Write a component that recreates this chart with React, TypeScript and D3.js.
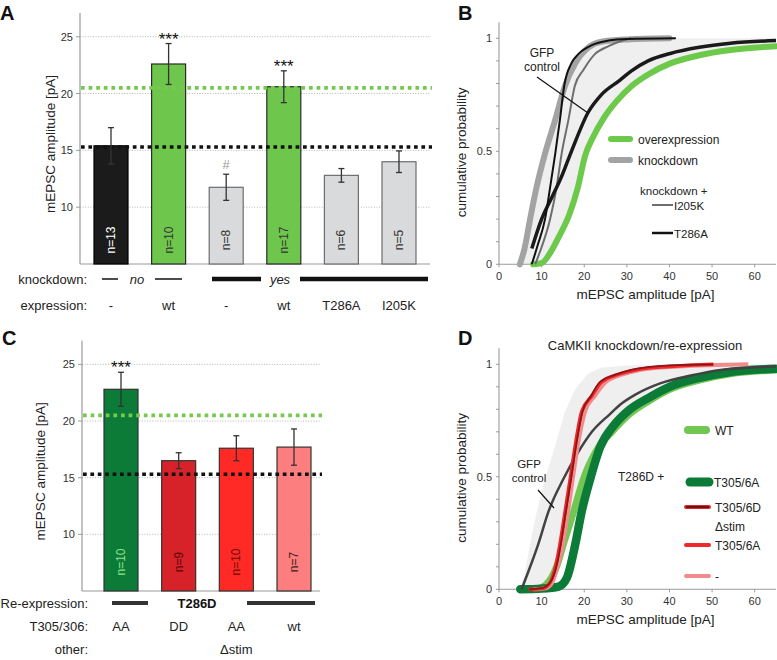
import React from "react";
import * as d3 from "d3";

const FONT = '"Liberation Sans", Arial, Helvetica, sans-serif';

// ---------- Panel A data ----------
const aExpression = ["-", "wt", "-", "wt", "T286A", "I205K"];
const aValues = [15.4, 22.6, 11.75, 20.6, 12.8, 14.0];
const aSem = [1.6, 1.8, 1.15, 1.4, 0.6, 0.95];
const aN = [13, 10, 8, 17, 6, 5];
const aFill = ["#1b1b1b", "#6fc64d", "#d9dadb", "#6fc64d", "#d9dadb", "#d9dadb"];
const aStroke = ["#000", "#2a2a2a", "#6d6d6d", "#2a2a2a", "#6d6d6d", "#6d6d6d"];
const aNColor = ["#ffffff", "#333", "#333", "#333", "#333", "#333"];
const aMarks = ["", "***", "#", "***", "", ""];

// ---------- Panel C data ----------
const cT305 = ["AA", "DD", "AA", "wt"];
const cOther = ["", "", "\u0394stim", ""];
const cValues = [22.8, 16.5, 17.6, 17.7];
const cSem = [1.5, 0.7, 1.1, 1.6];
const cN = [10, 9, 10, 7];
const cFill = ["#0b7b37", "#d62228", "#ff2a25", "#fd7e7e"];
const cNColor = ["#8fe08f", "#5a0808", "#6e0808", "#3a2020"];
const cMarks = ["***", "", "", ""];

const yTicksBar = [10, 15, 20, 25];
const refOverexpression = 20.5;
const refControl = 15.3;

// ---------- Panel B cumulative curves [amplitude pA, probability] ----------
const bKnockdown: [number, number][] = [[4.9, 0], [6, 0.07], [7.3, 0.2], [8.8, 0.34], [10.8, 0.49], [13.2, 0.64], [15.5, 0.79], [17.9, 0.89], [21, 0.96], [24, 0.985], [30, 0.995], [40, 1]];
const bOverexpression: [number, number][] = [[8, 0], [10, 0.005], [12, 0.05], [14, 0.12], [16.5, 0.22], [18.5, 0.34], [20.2, 0.48], [22, 0.56], [24.5, 0.645], [27.5, 0.72], [31.2, 0.79], [35, 0.84], [40.2, 0.889], [47, 0.925], [54.3, 0.948], [65, 0.965]];
const bGFP: [number, number][] = [[7.7, 0.07], [10, 0.2], [12.5, 0.3], [14.5, 0.38], [17, 0.5], [21, 0.675], [24, 0.75], [28.4, 0.815], [31, 0.855], [35, 0.9], [40.2, 0.933], [47, 0.96], [54.3, 0.978], [65, 0.99]];
const bI205K: [number, number][] = [[8.5, 0], [9.5, 0.05], [12, 0.2], [13.5, 0.34], [14.7, 0.49], [16.3, 0.64], [17.8, 0.79], [19.8, 0.86], [22.5, 0.93], [25.7, 0.965], [29, 0.99], [31, 1]];
const bT286A: [number, number][] = [[7.7, 0], [9, 0.08], [10.8, 0.2], [12, 0.34], [13.2, 0.49], [14.3, 0.64], [15.3, 0.79], [17, 0.89], [18.6, 0.93], [21.8, 0.97], [25.7, 0.99], [30, 0.997], [41.5, 1]];

// ---------- Panel D cumulative curves ----------
const dWT: [number, number][] = [[5, 0], [9, 0.003], [11, 0.02], [13.5, 0.1], [15.1, 0.2], [17.5, 0.345], [19.8, 0.49], [23.3, 0.63], [26.5, 0.7], [30.4, 0.775], [35, 0.835], [40.2, 0.89], [47, 0.93], [54.3, 0.958], [65, 0.975]];
const dT305A: [number, number][] = [[5, 0], [10, 0.003], [14, 0.012], [15.9, 0.05], [17.9, 0.2], [19.4, 0.345], [21.4, 0.49], [23.7, 0.63], [27, 0.73], [30.4, 0.795], [35, 0.85], [40, 0.9], [47, 0.94], [54, 0.965], [65, 0.98]];
const dGFP: [number, number][] = [[5.3, 0], [7.7, 0.12], [9.2, 0.2], [11.6, 0.345], [15.1, 0.49], [18.6, 0.61], [21.8, 0.7], [26.1, 0.78], [28.4, 0.82], [32, 0.865], [37.8, 0.915], [45, 0.95], [52, 0.975], [65, 0.99]];
const dT305D: [number, number][] = [[7, 0], [10, 0.005], [12, 0.03], [13.7, 0.12], [14.5, 0.2], [15.7, 0.345], [16.9, 0.49], [18.1, 0.64], [19.6, 0.79], [21.6, 0.86], [23.6, 0.92], [27.5, 0.955], [31, 0.975], [40, 0.995], [50.3, 1]];
const dStimA: [number, number][] = [[6.9, 0], [10, 0.003], [11.6, 0.02], [13.5, 0.12], [14.3, 0.2], [15.5, 0.345], [16.7, 0.49], [17.9, 0.64], [19.4, 0.79], [21.8, 0.86], [24, 0.92], [28, 0.955], [32, 0.975], [40, 0.99], [50.3, 1]];
const dStimNone: [number, number][] = [[8, 0], [11, 0.005], [12.5, 0.03], [14, 0.12], [15, 0.2], [16.2, 0.345], [17.3, 0.49], [18.5, 0.64], [20.2, 0.79], [22.5, 0.86], [25, 0.92], [29, 0.955], [33, 0.975], [42, 0.99], [58.5, 1]];

const xTicksCdf = [0, 10, 20, 30, 40, 50, 60];
const yTicksCdf = [0, 0.5, 1];

function BarPanel(props: any) {
  const { y, centers, values, sem, ns, fills, strokes, nColors, marks, axisX, axisRight, nY, yLabelX } = props;
  const base = y(5);
  const top = y(27);
  const midY = (base + top) / 2 + 5;
  return (
    <g>
      {yTicksBar.map((t: number) => (
        <line key={"g" + t} x1={axisX} x2={axisRight} y1={y(t)} y2={y(t)} stroke="#b5b5b5" strokeWidth={1} strokeDasharray="1 1.6" />
      ))}
      <line x1={axisX} x2={axisX} y1={top - 1} y2={base} stroke="#9a9a9a" strokeWidth={1.2} />
      <line x1={axisX} x2={axisRight} y1={base} y2={base} stroke="#9a9a9a" strokeWidth={1.2} />
      {yTicksBar.map((t: number) => (
        <g key={"t" + t}>
          <line x1={axisX - 4} x2={axisX} y1={y(t)} y2={y(t)} stroke="#9a9a9a" strokeWidth={1} />
          <text x={axisX - 7} y={y(t) + 4} textAnchor="end" fontSize={11} fill="#333">{t}</text>
        </g>
      ))}
      <text transform={`translate(${yLabelX},${midY}) rotate(-90)`} textAnchor="middle" fontSize={13.5} fill="#222">mEPSC amplitude [pA]</text>
      {values.map((v: number, i: number) => {
        const cx = centers(i);
        return (
          <g key={"b" + i}>
            <rect x={cx - 17} y={y(v)} width={34} height={base - y(v)} fill={fills[i]} stroke={strokes[i]} strokeWidth={1.2} />
            <text transform={`translate(${cx + 4},${nY}) rotate(-90)`} textAnchor="middle" fontSize={12} fill={nColors[i]}>{"n=" + ns[i]}</text>
          </g>
        );
      })}
      <line x1={axisX + 1} x2={axisRight + 2} y1={y(refOverexpression)} y2={y(refOverexpression)} stroke="#77c84f" strokeWidth={3.6} strokeDasharray="3.7 3.9" />
      <line x1={axisX + 1} x2={axisRight + 2} y1={y(refControl)} y2={y(refControl)} stroke="#111" strokeWidth={3.6} strokeDasharray="3.7 3.7" />
      {values.map((v: number, i: number) => {
        const cx = centers(i);
        const hi = y(v + sem[i]);
        const lo = y(v - sem[i]);
        return (
          <g key={"e" + i} stroke="#333" strokeWidth={1.3}>
            <line x1={cx} x2={cx} y1={hi} y2={lo} />
            <line x1={cx - 3} x2={cx + 3} y1={hi} y2={hi} />
            <line x1={cx - 3} x2={cx + 3} y1={lo} y2={lo} />
          </g>
        );
      })}
      {marks.map((m: string, i: number) => {
        if (!m) return null;
        const cx = centers(i);
        const hi = y(values[i] + sem[i]);
        if (m === "#") return <text key={"m" + i} x={cx} y={hi - 5} textAnchor="middle" fontSize={13} fill="#9a9a9a">#</text>;
        return <text key={"m" + i} x={cx} y={hi + 1} textAnchor="middle" fontSize={17} fill="#111">{m}</text>;
      })}
    </g>
  );
}

function CdfAxes(props: any) {
  const { x, y } = props;
  const minor = d3.range(0, 1.0001, 0.1);
  return (
    <g>
      <line x1={x(0)} x2={x(0)} y1={y(1) - 16} y2={y(0)} stroke="#9a9a9a" strokeWidth={1.1} />
      <line x1={x(0)} x2={x(65)} y1={y(0)} y2={y(0)} stroke="#9a9a9a" strokeWidth={1.1} />
      {minor.map((t: number, i: number) => (
        <line key={"mn" + i} x1={x(0) - 3} x2={x(0)} y1={y(t)} y2={y(t)} stroke="#9a9a9a" strokeWidth={1} />
      ))}
      {yTicksCdf.map((t: number) => (
        <text key={"yt" + t} x={x(0) - 7} y={y(t) + 4} textAnchor="end" fontSize={11} fill="#333">{t}</text>
      ))}
      {xTicksCdf.map((t: number) => (
        <g key={"xt" + t}>
          <line x1={x(t)} x2={x(t)} y1={y(0)} y2={y(0) + 3} stroke="#9a9a9a" strokeWidth={1} />
          <text x={x(t)} y={y(0) + 16} textAnchor="middle" fontSize={11} fill="#333">{t}</text>
        </g>
      ))}
      <text x={(x(0) + x(65)) / 2 + 8} y={y(0) + 35} textAnchor="middle" fontSize={13.5} fill="#222">mEPSC amplitude [pA]</text>
      <text transform={`translate(${x(0) - 33},${(y(0) + y(1)) / 2 + 1}) rotate(-90)`} textAnchor="middle" fontSize={13.5} fill="#222">cumulative probability</text>
    </g>
  );
}

export default function App() {
  const yA = d3.scaleLinear().domain([5, 27]).range([264, 14]);
  const xA = d3.scalePoint<number>().domain(d3.range(aValues.length)).range([111, 399]);
  const yC = d3.scaleLinear().domain([5, 27]).range([591, 341.7]);
  const xC = d3.scalePoint<number>().domain(d3.range(cValues.length)).range([121, 294]);
  const xB = d3.scaleLinear().domain([0, 65]).range([499, 776]);
  const yB = d3.scaleLinear().domain([0, 1]).range([264.3, 38.3]);
  const xD = xB;
  const yD = d3.scaleLinear().domain([0, 1]).range([589.3, 364.3]);

  const lineB = d3.line<[number, number]>().x((d) => xB(d[0])).y((d) => yB(d[1])).curve(d3.curveMonotoneX);
  const lineD = d3.line<[number, number]>().x((d) => xD(d[0])).y((d) => yD(d[1])).curve(d3.curveMonotoneX);

  const shadeB = [...bKnockdown, [65, 1] as [number, number], ...[...bOverexpression].reverse()];
  const shadeD = [...bKnockdown, [65, 1] as [number, number], ...[...dWT].reverse()];
  const areaB = d3.line<[number, number]>().x((d) => xB(d[0])).y((d) => yB(d[1])).curve(d3.curveLinear);
  const areaD = d3.line<[number, number]>().x((d) => xD(d[0])).y((d) => yD(d[1])).curve(d3.curveLinear);

  return (
    <svg width={777} height={660} style={{ position: "absolute", left: 0, top: 0, background: "#fff" }} fontFamily={FONT}>
      <rect x={0} y={0} width={777} height={660} fill="#fff" />
      {/* ================= Panel A ================= */}
      <text x={0} y={20} fontSize={20} fontWeight="bold" fill="#111">A</text>
      <BarPanel y={yA} centers={xA} values={aValues} sem={aSem} ns={aN} fills={aFill} strokes={aStroke} nColors={aNColor} marks={aMarks} axisX={80} axisRight={430} nY={240} yLabelX={55} />
      <text x={87} y={283.5} textAnchor="end" fontSize={13} fill="#222">knockdown:</text>
      <line x1={102} x2={118} y1={279} y2={279} stroke="#111" strokeWidth={1.5} />
      <text x={137} y={283.5} textAnchor="middle" fontSize={13} fontStyle="italic" fill="#222">no</text>
      <line x1={155} x2={182} y1={279} y2={279} stroke="#111" strokeWidth={1.5} />
      <line x1={212} x2={261} y1={279} y2={279} stroke="#111" strokeWidth={4.5} />
      <text x={280} y={283.5} textAnchor="middle" fontSize={13} fontStyle="italic" fill="#222">yes</text>
      <line x1={300} x2={428} y1={279} y2={279} stroke="#111" strokeWidth={4.5} />
      <text x={87} y={309.5} textAnchor="end" fontSize={13} fill="#222">expression:</text>
      {aExpression.map((s, i) => (
        <text key={"ex" + i} x={xA(i)} y={309.5} textAnchor="middle" fontSize={13} fill="#222">{s}</text>
      ))}

      {/* ================= Panel C ================= */}
      <text x={2} y={345} fontSize={20} fontWeight="bold" fill="#111">C</text>
      <BarPanel y={yC} centers={xC} values={cValues} sem={cSem} ns={cN} fills={cFill} strokes={["#333", "#333", "#333", "#333"]} nColors={cNColor} marks={cMarks} axisX={82} axisRight={320} nY={562} yLabelX={45} />
      <text x={88} y={607.5} textAnchor="end" fontSize={13} fill="#222">Re-expression:</text>
      <line x1={112} x2={148} y1={603} y2={603} stroke="#333" strokeWidth={4} />
      <text x={197} y={608} textAnchor="middle" fontSize={13} fontWeight="bold" fill="#111">T286D</text>
      <line x1={247} x2={315} y1={603} y2={603} stroke="#333" strokeWidth={4} />
      <text x={88} y={631} textAnchor="end" fontSize={13} fill="#222">T305/306:</text>
      {cT305.map((s, i) => (
        <text key={"t3" + i} x={xC(i)} y={631} textAnchor="middle" fontSize={13} fill="#222">{s}</text>
      ))}
      <text x={88} y={654} textAnchor="end" fontSize={13} fill="#222">other:</text>
      {cOther.map((s, i) => (
        <text key={"ot" + i} x={xC(i)} y={654} textAnchor="middle" fontSize={13} fill="#222">{s}</text>
      ))}

      {/* ================= Panel B ================= */}
      <text x={458} y={20} fontSize={20} fontWeight="bold" fill="#111">B</text>
      <path d={areaB(shadeB) || ""} fill="#efefef" stroke="none" />
      <CdfAxes x={xB} y={yB} />
      <path d={lineB(bOverexpression) || ""} fill="none" stroke="#6cc94a" strokeWidth={6} strokeLinecap="round" />
      <path d={lineB(bKnockdown) || ""} fill="none" stroke="#a2a3a5" strokeWidth={6} strokeLinecap="round" />
      <path d={lineB(bI205K) || ""} fill="none" stroke="#6e6e6e" strokeWidth={2} />
      <path d={lineB(bGFP) || ""} fill="none" stroke="#1a1a1a" strokeWidth={3.5} />
      <path d={lineB(bT286A) || ""} fill="none" stroke="#111" strokeWidth={2} />
      <text x={542} y={57} textAnchor="middle" fontSize={12} fill="#222">GFP</text>
      <text x={542} y={71} textAnchor="middle" fontSize={12} fill="#222">control</text>
      <line x1={537} y1={77} x2={588} y2={113} stroke="#111" strokeWidth={1.2} />
      <line x1={611} x2={630} y1={139} y2={139} stroke="#6cc94a" strokeWidth={6} strokeLinecap="round" />
      <text x={638} y={143.5} fontSize={12} fill="#222">overexpression</text>
      <line x1={611} x2={630} y1={160} y2={160} stroke="#a2a3a5" strokeWidth={6} strokeLinecap="round" />
      <text x={638} y={164.5} fontSize={12} fill="#222">knockdown</text>
      <text x={640} y={195} fontSize={11.5} fill="#222">knockdown +</text>
      <line x1={652} x2={673} y1={205} y2={205} stroke="#6e6e6e" strokeWidth={2} />
      <text x={674} y={209.5} fontSize={11.5} fill="#222">I205K</text>
      <line x1={652} x2={673} y1={233} y2={233} stroke="#111" strokeWidth={2.5} />
      <text x={674} y={237.5} fontSize={11.5} fill="#222">T286A</text>

      {/* ================= Panel D ================= */}
      <text x={458} y={345} fontSize={20} fontWeight="bold" fill="#111">D</text>
      <text x={645} y={350} textAnchor="middle" fontSize={13} fill="#222">CaMKII knockdown/re-expression</text>
      <path d={areaD(shadeD) || ""} fill="#efefef" stroke="none" />
      <CdfAxes x={xD} y={yD} />
      <path d={lineD(dWT) || ""} fill="none" stroke="#72c653" strokeWidth={7} strokeLinecap="round" />
      <path d={lineD(dT305A) || ""} fill="none" stroke="#0b7b37" strokeWidth={8.5} strokeLinecap="round" />
      <path d={lineD(dGFP) || ""} fill="none" stroke="#424242" strokeWidth={2.5} />
      <path d={lineD(dStimNone) || ""} fill="none" stroke="#f08c8c" strokeWidth={4} />
      <path d={lineD(dStimA) || ""} fill="none" stroke="#f0282a" strokeWidth={3.5} />
      <path d={lineD(dT305D) || ""} fill="none" stroke="#8c1515" strokeWidth={1.8} />
      <text x={529} y={468} textAnchor="middle" fontSize={11.5} fill="#222">GFP</text>
      <text x={529} y={482} textAnchor="middle" fontSize={11.5} fill="#222">control</text>
      <line x1={538} y1={490} x2={554} y2={508} stroke="#111" strokeWidth={1.2} />
      <line x1={688} x2={706} y1={430} y2={430} stroke="#72c653" strokeWidth={8} strokeLinecap="round" />
      <text x={715} y={434.5} fontSize={12} fill="#222">WT</text>
      <text x={618} y={481} fontSize={12} fill="#222">T286D +</text>
      <line x1={690} x2={709} y1={482} y2={482} stroke="#0b7b37" strokeWidth={9} strokeLinecap="round" />
      <text x={714} y={486.5} fontSize={12} fill="#222">T305/6A</text>
      <line x1={686} x2={709} y1={507} y2={507} stroke="#e0282a" strokeWidth={4} strokeLinecap="round" />
      <line x1={686} x2={709} y1={507} y2={507} stroke="#5a0a0a" strokeWidth={1.6} />
      <text x={715} y={511.5} fontSize={12} fill="#222">T305/6D</text>
      <text x={715} y={531} fontSize={12} fill="#222">{"\u0394stim"}</text>
      <line x1={686} x2={709} y1={545} y2={545} stroke="#f0282a" strokeWidth={4} strokeLinecap="round" />
      <text x={715} y={549.5} fontSize={12} fill="#222">T305/6A</text>
      <line x1={686} x2={709} y1={576} y2={576} stroke="#f08c8c" strokeWidth={4} strokeLinecap="round" />
      <text x={715} y={580.5} fontSize={12} fill="#222">-</text>
    </svg>
  );
}
